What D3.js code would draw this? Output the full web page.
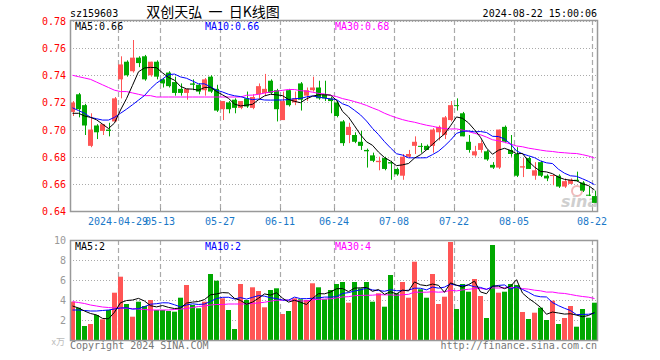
<!DOCTYPE html>
<html>
<head>
<meta charset="utf-8">
<script src="https://cdn.jsdelivr.net/npm/d3@7"></script>
<style>
  body { margin: 0; background: #fff; }
  svg { display: block; }
  text { font-family: "DejaVu Sans Mono", "Liberation Mono", monospace; font-size: 10px; }
</style>
</head>
<body>
<svg id="chart"></svg>
<script>
// trading days shown (2024)
let dates = ['04-17','04-18','04-19','04-22','04-23','04-24','04-25','04-26','04-29','04-30',
  '05-06','05-07','05-08','05-09','05-10','05-13','05-14','05-15','05-16','05-17',
  '05-20','05-21','05-22','05-23','05-24','05-27','05-28','05-29','05-30','05-31',
  '06-03','06-04','06-05','06-06','06-07','06-11','06-12','06-13','06-14','06-17',
  '06-18','06-19','06-20','06-21','06-24','06-25','06-26','06-27','06-28','07-01',
  '07-02','07-03','07-04','07-05','07-08','07-09','07-10','07-11','07-12','07-15',
  '07-16','07-17','07-18','07-19','07-22','07-23','07-24','07-25','07-26','07-29',
  '07-30','07-31','08-01','08-02','08-05','08-06','08-07','08-08','08-09','08-12',
  '08-13','08-14','08-15','08-16','08-19','08-20','08-21','08-22']

let opens = [0.713,0.726,0.718,0.688,0.703,0.699,0.700,0.706,0.737,0.750,
  0.743,0.753,0.754,0.740,0.750,0.737,0.742,0.735,0.730,0.727,
  0.734,0.733,0.729,0.739,0.730,0.715,0.720,0.722,0.716,0.723,
  0.716,0.726,0.727,0.736,0.729,0.707,0.729,0.720,0.734,0.725,
  0.729,0.731,0.726,0.723,0.720,0.706,0.696,0.696,0.691,0.685,
  0.681,0.676,0.679,0.676,0.671,0.666,0.680,0.688,0.688,0.688,
  0.688,0.698,0.696,0.707,0.718,0.712,0.691,0.681,0.685,0.684,
  0.674,0.672,0.702,0.685,0.682,0.672,0.679,0.666,0.676,0.666,
  0.666,0.666,0.658,0.660,0.663,0.661,0.652,0.651]
let highs = [0.721,0.727,0.719,0.712,0.704,0.704,0.705,0.724,0.754,0.751,
  0.766,0.754,0.755,0.750,0.751,0.738,0.743,0.739,0.734,0.730,
  0.737,0.734,0.738,0.740,0.733,0.721,0.721,0.723,0.721,0.728,
  0.726,0.734,0.741,0.737,0.730,0.728,0.730,0.728,0.735,0.731,
  0.739,0.736,0.736,0.724,0.721,0.707,0.705,0.698,0.699,0.686,
  0.683,0.680,0.680,0.677,0.672,0.682,0.685,0.695,0.690,0.689,
  0.701,0.703,0.710,0.721,0.723,0.713,0.696,0.688,0.692,0.685,
  0.676,0.700,0.703,0.696,0.687,0.679,0.680,0.676,0.677,0.667,
  0.667,0.667,0.664,0.664,0.669,0.662,0.658,0.655]
let lows = [0.710,0.709,0.696,0.687,0.693,0.696,0.695,0.706,0.723,0.739,
  0.742,0.746,0.736,0.739,0.737,0.731,0.731,0.725,0.725,0.722,
  0.729,0.726,0.725,0.727,0.713,0.707,0.712,0.712,0.715,0.716,
  0.715,0.723,0.725,0.726,0.706,0.707,0.717,0.718,0.714,0.721,
  0.728,0.722,0.721,0.712,0.709,0.688,0.690,0.690,0.685,0.672,
  0.676,0.670,0.670,0.663,0.666,0.663,0.679,0.682,0.683,0.685,
  0.683,0.692,0.693,0.706,0.714,0.695,0.683,0.680,0.683,0.677,
  0.671,0.671,0.690,0.680,0.665,0.665,0.671,0.663,0.665,0.662,
  0.659,0.657,0.657,0.660,0.662,0.654,0.651,0.646]
let closes = [0.720,0.715,0.703,0.700,0.698,0.704,0.699,0.723,0.748,0.740,
  0.753,0.749,0.737,0.750,0.739,0.734,0.732,0.727,0.727,0.730,
  0.733,0.728,0.737,0.728,0.714,0.721,0.715,0.716,0.721,0.717,
  0.724,0.732,0.730,0.727,0.715,0.721,0.718,0.723,0.722,0.729,
  0.731,0.723,0.723,0.721,0.710,0.690,0.702,0.691,0.688,0.684,
  0.677,0.677,0.671,0.675,0.667,0.680,0.682,0.691,0.6875,0.685,
  0.700,0.702,0.709,0.718,0.7175,0.695,0.685,0.684,0.690,0.678,
  0.672,0.700,0.691,0.682,0.666,0.673,0.671,0.670,0.666,0.664,
  0.6665,0.658,0.662,0.663,0.662,0.655,0.6515,0.646]

// volume, in 10k lots
let volumes = [3.83,3.23,1.4,1.6,2.5,2.07,3.0,4.73,6.33,3.6,
  2.33,3.83,3.4,4.0,3.0,3.0,2.9,2.83,4.23,5.5,
  3.5,3.17,3.83,6.6,5.93,4.17,3.0,1.1,5.6,4.0,
  5.27,4.9,3.27,5.0,5.17,2.6,2.9,4.17,4.07,4.0,
  5.67,5.27,4.07,5.0,5.6,5.8,3.73,5.8,5.17,5.8,
  3.83,4.67,3.33,6.5,4.67,5.8,4.23,7.83,5.07,4.23,
  6.6,3.6,4.33,9.8,3.1,5.6,4.83,6.1,4.4,2.2,
  9.5,4.73,4.83,5.6,5.5,2.8,2.1,2.73,3.23,2.0,
  3.93,1.6,2.2,3.4,1.33,3.1,2.23,3.73]

// moving averages before a full window is on screen
let priceMa5Head = [0.712,0.712,0.710,0.709]
let priceMa10Head = [0.716,0.714,0.712,0.709,0.708,0.707,0.707,0.709,0.712]
let priceMa30Head = [0.740,0.739,0.738,0.737,0.735,0.733,0.731,0.729,0.728,0.728,
  0.727,0.726,0.725,0.725,0.724,0.724,0.724,0.724,0.724,0.724,
  0.724,0.724,0.724,0.724,0.724,0.724,0.724,0.724,0.724]
let volMa5Head = [3.4,3.2,2.9,2.65]
let volMa10Head = [3.0,3.0,2.95,2.9,2.9,2.95,3.0,3.1,3.2]
let volMa30Head = [3.83,3.75,3.65,3.5,3.4,3.3,3.25,3.2,3.2,3.17,
  3.15,3.1,3.05,3.0,3.0,3.0,3.0,3.05,3.1,3.15,
  3.25,3.35,3.4,3.5,3.55,3.55,3.6,3.6,3.6]

let priceTicks = [0.78,0.76,0.74,0.72,0.70,0.68,0.66,0.64]
let volTicks = [10,8,6,4,2]
let tickDates = ['04-29','05-13','05-27','06-11','06-24','07-08','07-22','08-05','08-22']
let tickLabels = ['2024-04-29','05-13','05-27','06-11','06-24','07-08','07-22','08-05','08-22']

let width = 660
let height = 360
let left = 70
let right = 598
let priceTop = 20
let priceBottom = 211
let volTop = 240
let volBottom = 340

let up = '#ff5555'
let down = '#00a800'
let gridColor = '#aaaaaa'

let svg = d3.select('#chart').attr('width', width).attr('height', height)

let xScale = d3.scaleBand().domain(dates).range([left, right]).padding(0)
let bw = xScale.bandwidth() - 1
let yPrice = d3.scaleLinear().domain([0.64, 0.78]).range([priceBottom, 21])
let yVol = d3.scaleLinear().domain([0, 10]).range([volBottom, volTop])

// moving average: use the read head until the window is full
let movingAvg = (values, n, head) => {
  return values.map((v, i) => {
    if (i < n - 1) return head[i]
    return d3.mean(values.slice(i - n + 1, i + 1))
  })
}

let drawGrid = (top, bottom, yScale, ticks) => {
  ticks.forEach(t => {
    let y = Math.round(yScale(t)) + 0.5
    if (y <= top + 1 || y >= bottom - 1) return
    svg.append('line').attr('x1', left).attr('x2', right).attr('y1', y).attr('y2', y)
      .attr('stroke', gridColor).attr('stroke-dasharray', '1,2')
  })
  tickDates.forEach(d => {
    let x = Math.round(xScale(d)) + 0.5
    svg.append('line').attr('x1', x).attr('x2', x).attr('y1', top).attr('y2', bottom)
      .attr('stroke', gridColor).attr('stroke-width', 1.2).attr('stroke-dasharray', '5,3')
  })
}

let drawFrame = (top, bottom) => {
  svg.append('rect').attr('x', left + 0.5).attr('y', top + 0.5)
    .attr('width', right - left - 1).attr('height', bottom - top)
    .attr('fill', 'none').attr('stroke', '#999').attr('stroke-width', 1.5)
}

let drawLine = (values, yScale, color) => {
  let line = d3.line()
    .x((v, i) => xScale(dates[i]) + bw / 2)
    .y(v => yScale(v))
  svg.append('path').datum(values).attr('d', line)
    .attr('fill', 'none').attr('stroke', color).attr('stroke-width', 1)
}

// ----- grids -----
drawGrid(priceTop, priceBottom, yPrice, priceTicks)
drawGrid(volTop, volBottom, yVol, volTicks)

// sina watermark
svg.append('circle').attr('cx', 577).attr('cy', 191).attr('r', 5)
  .attr('fill', 'none').attr('stroke', '#f2b8b8').attr('stroke-width', 2)
svg.append('text').attr('x', 561).attr('y', 207).text('sina')
  .style('font-family', 'DejaVu Sans').style('font-size', '16px')
  .style('font-weight', 'bold').style('font-style', 'italic').attr('fill', '#cfcfcf')

// ----- candles -----
let candles = svg.append('g')
dates.forEach((d, i) => {
  let x = xScale(d)
  let isUp = closes[i] >= opens[i]
  let color = isUp ? up : down
  let cx = Math.round(x + bw / 2) + 0.5
  candles.append('line').attr('x1', cx).attr('x2', cx)
    .attr('y1', yPrice(highs[i])).attr('y2', yPrice(lows[i]))
    .attr('stroke', color).attr('stroke-width', 1)
  let top = yPrice(Math.max(opens[i], closes[i]))
  let bot = yPrice(Math.min(opens[i], closes[i]))
  candles.append('rect').attr('x', x).attr('y', top)
    .attr('width', bw).attr('height', Math.max(1, bot - top))
    .attr('fill', color)
})

// ----- volume bars -----
svg.append('g').selectAll('rect')
  .data(volumes)
  .enter()
  .append('rect')
  .attr('x', (v, i) => xScale(dates[i]))
  .attr('y', v => yVol(v))
  .attr('width', bw)
  .attr('height', v => volBottom - yVol(v))
  .attr('fill', (v, i) => closes[i] >= opens[i] ? up : down)

// ----- moving averages -----
drawLine(movingAvg(closes, 30, priceMa30Head), yPrice, '#ff00ff')
drawLine(movingAvg(closes, 10, priceMa10Head), yPrice, '#0000ff')
drawLine(movingAvg(closes, 5, priceMa5Head), yPrice, '#000000')
drawLine(movingAvg(volumes, 30, volMa30Head), yVol, '#ff00ff')
drawLine(movingAvg(volumes, 10, volMa10Head), yVol, '#0000ff')
drawLine(movingAvg(volumes, 5, volMa5Head), yVol, '#000000')

// ----- frames -----
drawFrame(priceTop, priceBottom)
drawFrame(volTop, volBottom)

// small ticks on the date axis
tickDates.forEach(d => {
  let x = Math.round(xScale(d)) + 0.5
  svg.append('line').attr('x1', x).attr('x2', x).attr('y1', priceBottom - 3).attr('y2', priceBottom)
    .attr('stroke', '#999')
})

// ----- axis labels -----
priceTicks.forEach(t => {
  svg.append('text').attr('x', 66).attr('y', yPrice(t) + 4)
    .attr('text-anchor', 'end').attr('fill', '#ff0000').text(t.toFixed(2))
})
volTicks.forEach(t => {
  svg.append('text').attr('x', 66).attr('y', yVol(t) + 4)
    .attr('text-anchor', 'end').attr('fill', '#999').text(t)
})
svg.append('text').attr('x', 65).attr('y', 345).attr('text-anchor', 'end')
  .attr('fill', '#bbb').text('x万')
  .style('font-family', '"Noto Sans CJK SC", sans-serif').style('font-size', '9px')

tickDates.forEach((d, i) => {
  svg.append('text').attr('x', xScale(d)).attr('y', 225)
    .attr('text-anchor', 'middle').attr('fill', '#1a78c8').text(tickLabels[i])
})

// ----- header and legends -----
svg.append('text').attr('x', 70).attr('y', 17).attr('fill', '#000').text('sz159603')
svg.append('text').attr('x', 213).attr('y', 17).attr('text-anchor', 'middle')
  .style('font-family', '"Noto Sans CJK SC", sans-serif').style('font-size', '14px')
  .style('white-space', 'pre')
  .attr('fill', '#000').text('双创天弘  一  日K线图')
svg.append('text').attr('x', 597).attr('y', 17).attr('text-anchor', 'end')
  .attr('fill', '#000').text('2024-08-22 15:00:06')

let legends = [
  ['MA5:0.66', 75, 30, '#000'], ['MA10:0.66', 205, 30, '#0000ff'], ['MA30:0.68', 335, 30, '#ff00ff'],
  ['MA5:2', 75, 250, '#000'], ['MA10:2', 205, 250, '#0000ff'], ['MA30:4', 335, 250, '#ff00ff']
]
legends.forEach(l => {
  svg.append('text').attr('x', l[1]).attr('y', l[2]).attr('fill', l[3]).text(l[0])
})

svg.append('text').attr('x', 70).attr('y', 349).attr('fill', '#777').text('Copyright 2024 SINA.COM')
svg.append('text').attr('x', 597).attr('y', 349).attr('text-anchor', 'end')
  .attr('fill', '#777').text('http://finance.sina.com.cn')
</script>
</body>
</html>
